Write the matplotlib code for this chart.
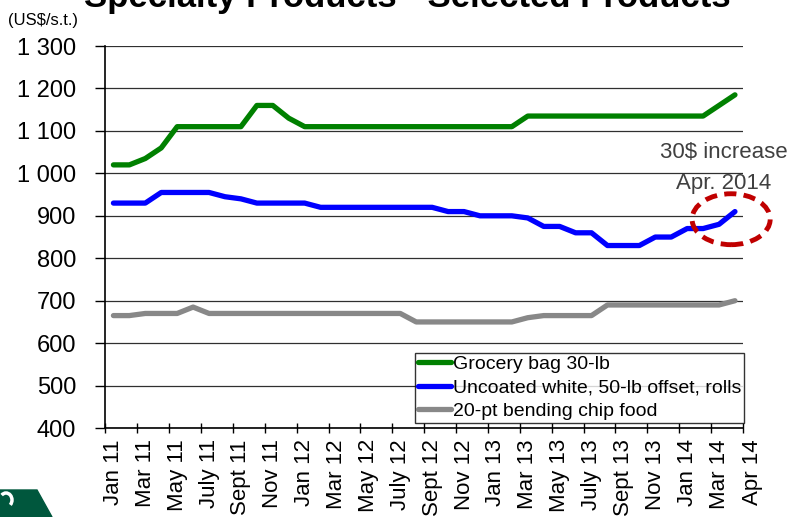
import matplotlib.pyplot as plt
from matplotlib.patches import Ellipse, Polygon, Arc
from matplotlib.ticker import FuncFormatter

plt.rcParams['font.family'] = ['Liberation Sans', 'DejaVu Sans']

# monthly, Jan 11 .. Apr 14 (40 months)
months = ['Jan 11', 'Feb 11', 'Mar 11', 'Apr 11', 'May 11', 'Jun 11', 'July 11', 'Aug 11',
          'Sept 11', 'Oct 11', 'Nov 11', 'Dec 11', 'Jan 12', 'Feb 12', 'Mar 12', 'Apr 12',
          'May 12', 'Jun 12', 'July 12', 'Aug 12', 'Sept 12', 'Oct 12', 'Nov 12', 'Dec 12',
          'Jan 13', 'Feb 13', 'Mar 13', 'Apr 13', 'May 13', 'Jun 13', 'July 13', 'Aug 13',
          'Sept 13', 'Oct 13', 'Nov 13', 'Dec 13', 'Jan 14', 'Feb 14', 'Mar 14', 'Apr 14']

grocery = [1020, 1020, 1035, 1060, 1110, 1110, 1110, 1110, 1110, 1160, 1160, 1130,
           1110, 1110, 1110, 1110, 1110, 1110, 1110, 1110, 1110, 1110, 1110, 1110,
           1110, 1110, 1135, 1135, 1135, 1135, 1135, 1135, 1135, 1135, 1135, 1135,
           1135, 1135, 1160, 1185]
uncoated = [930, 930, 930, 955, 955, 955, 955, 945, 940, 930, 930, 930,
            930, 920, 920, 920, 920, 920, 920, 920, 920, 910, 910, 900,
            900, 900, 895, 875, 875, 860, 860, 830, 830, 830, 850, 850,
            870, 870, 880, 910]
chip = [665, 665, 670, 670, 670, 685, 670, 670, 670, 670, 670, 670,
        670, 670, 670, 670, 670, 670, 670, 650, 650, 650, 650, 650,
        650, 650, 660, 665, 665, 665, 665, 690, 690, 690, 690, 690,
        690, 690, 690, 700]

series_names = ['Grocery bag 30-lb', 'Uncoated white, 50-lb offset, rolls', '20-pt bending chip food']
colors = ['#008000', '#0000ff', '#888888']

fig = plt.figure(figsize=(7.87, 5.17), dpi=100)
ax = fig.add_axes([0.134, 0.172, 0.810, 0.739])

x = list(range(len(months)))
for vals, name, c in zip([grocery, uncoated, chip], series_names, colors):
    ax.plot(x, vals, color=c, lw=3.8, label=name, solid_capstyle='round')

ax.set_xlim(-0.5, 39.5)
ax.set_ylim(400, 1300)
ax.set_yticks(range(400, 1301, 100))
ax.yaxis.set_major_formatter(FuncFormatter(lambda v, p: f'{int(v):,}'.replace(',', ' ')))
ax.grid(axis='y', color='#303030', lw=0.9)
ax.set_axisbelow(True)
for s in ['top', 'right']:
    ax.spines[s].set_visible(False)
ax.spines['left'].set_linewidth(1.2)
ax.spines['bottom'].set_linewidth(1.2)
ax.tick_params(axis='y', labelsize=17, length=7, pad=14, width=1)

# ticks between categories, labels every two months
ax.set_xticks([i - 0.5 for i in range(0, 41, 2)])
ax.set_xticklabels([])
ax.tick_params(axis='x', which='major', direction='inout', length=7, width=1)
ax.set_xticks(list(range(0, 40, 2)), minor=True)
ax.set_xticklabels(months[0:40:2], minor=True, rotation=90, fontsize=16)
ax.tick_params(axis='x', which='minor', length=0, pad=8)
ax.annotate('Apr 14', xy=(40.1, 0), xycoords=ax.get_xaxis_transform(),
            xytext=(0, -8), textcoords='offset points', rotation=90,
            ha='center', va='top', fontsize=16, annotation_clip=False)

leg = ax.legend(loc='lower right', bbox_to_anchor=(1.002, 0.013), borderaxespad=0,
                fontsize=14, frameon=True, fancybox=False, edgecolor='black',
                handlelength=1.7, handletextpad=0.1, borderpad=0.15, labelspacing=0.3)
leg.get_frame().set_linewidth(1.0)
leg.set_zorder(5)

fig.text(8 / 787, 1 - 28 / 517, '(US$/s.t.)', fontsize=12, ha='left', va='bottom')

# title is cropped at the top edge, as in the original slide
fig.text(407 / 787, 1 - 7 / 517, 'Specialty Products - Selected Products', fontsize=25,
         fontweight='bold', ha='center', va='baseline')

ax.text(38.3, 1050, '30$ increase', fontsize=16, color='#404040', ha='center', va='center')
ax.text(38.3, 977, 'Apr. 2014', fontsize=16, color='#404040', ha='center', va='center')
ax.add_patch(Ellipse((38.76, 892), 4.9, 120, fill=False, edgecolor='#c00000', lw=3.5,
                     ls=(0, (2.5, 1.5)), clip_on=False, zorder=6))

# logo corner
fig.patches.append(Polygon([(0, 27 / 517), (37 / 787, 27 / 517), (52 / 787, 0), (0, 0)],
                           closed=True, transform=fig.transFigure, color='#00573d'))
fig.patches.append(Arc((6 / 787, 17 / 517), 12 / 787, 14 / 517, theta1=-60, theta2=120,
                       transform=fig.transFigure, color='white', lw=2.5))

fig.savefig('out.png', dpi=100)
